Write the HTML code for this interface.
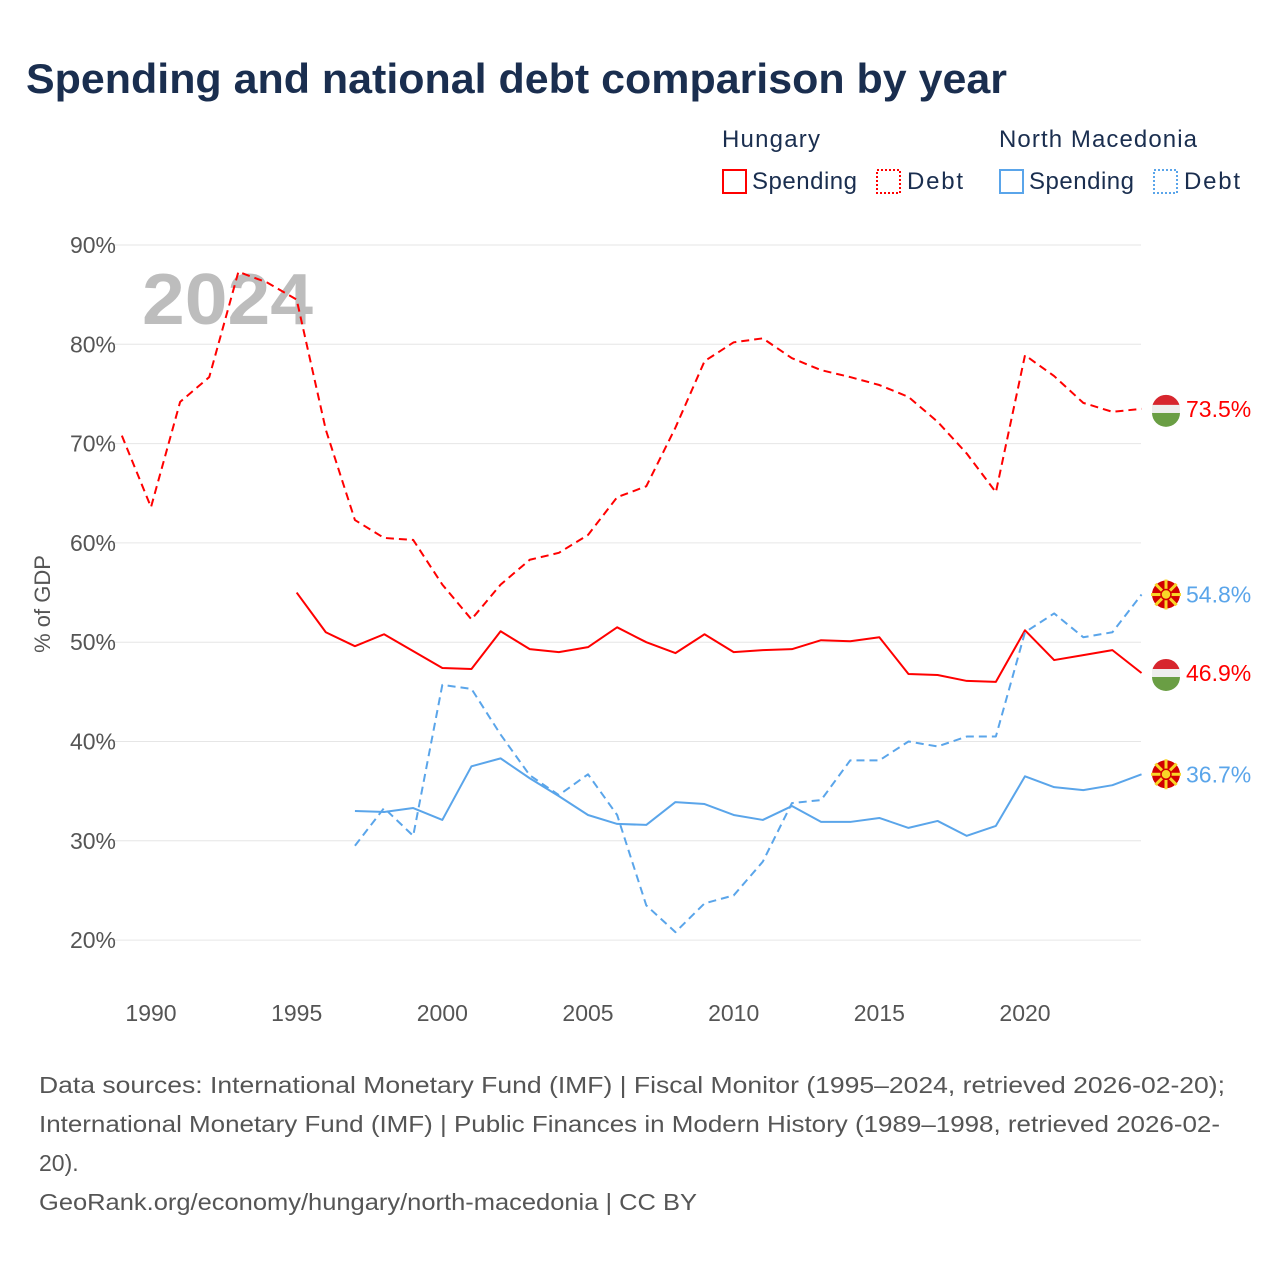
<!DOCTYPE html>
<html><head><meta charset="utf-8"><style>
body{margin:0;background:#fff;font-family:"Liberation Sans",sans-serif}
svg text{font-family:"Liberation Sans",sans-serif}
</style></head><body>
<svg id="chart" width="1280" height="1280" viewBox="0 0 1280 1280" xmlns="http://www.w3.org/2000/svg">
<text x="26" y="93" font-size="42" font-weight="bold" fill="#1a2e4f" textLength="981" lengthAdjust="spacingAndGlyphs">Spending and national debt comparison by year</text>
<g font-size="24" fill="#1a2e4f">
<text x="722" y="147" textLength="98">Hungary</text>
<text x="999" y="147" textLength="198">North Macedonia</text>
<rect x="723" y="170" width="23" height="23" fill="none" stroke="#f00" stroke-width="2"/>
<text x="752" y="189" textLength="105">Spending</text>
<rect x="877" y="170" width="23" height="23" fill="none" stroke="#f00" stroke-width="2" stroke-dasharray="2 2"/>
<text x="907" y="189" textLength="56">Debt</text>
<rect x="1000" y="170" width="23" height="23" fill="none" stroke="#5aa5ea" stroke-width="2"/>
<text x="1029" y="189" textLength="105">Spending</text>
<rect x="1154" y="170" width="23" height="23" fill="none" stroke="#5aa5ea" stroke-width="2" stroke-dasharray="2 2"/>
<text x="1184" y="189" textLength="56">Debt</text>
</g>
<g id="grid"></g>
<text x="142" y="324" font-size="72" font-weight="bold" fill="#bdbdbd" textLength="171" lengthAdjust="spacingAndGlyphs">2024</text>
<text transform="translate(50,604) rotate(-90)" text-anchor="middle" font-size="22" fill="#555">% of GDP</text>
<g id="series"></g>
<g id="ends"></g>
<g font-size="23" fill="#555">
<text x="39" y="1093" textLength="1186" lengthAdjust="spacingAndGlyphs">Data sources: International Monetary Fund (IMF) | Fiscal Monitor (1995–2024, retrieved 2026-02-20);</text>
<text x="39" y="1132" textLength="1181" lengthAdjust="spacingAndGlyphs">International Monetary Fund (IMF) | Public Finances in Modern History (1989–1998, retrieved 2026-02-</text>
<text x="39" y="1171">20).</text>
<text x="39" y="1210" textLength="658" lengthAdjust="spacingAndGlyphs">GeoRank.org/economy/hungary/north-macedonia | CC BY</text>
</g>
</svg>
<script>
const yTicks=[20,30,40,50,60,70,80,90];
const xTicks=[1990,1995,2000,2005,2010,2015,2020];
const huDebtYears=[1989,1990,1991,1992,1993,1994,1995,1996,1997,1998,1999,2000,2001,2002,2003,2004,2005,2006,2007,2008,2009,2010,2011,2012,2013,2014,2015,2016,2017,2018,2019,2020,2021,2022,2023,2024];
const huDebt=[70.8,63.6,74.2,76.7,87.3,86.2,84.5,71.4,62.3,60.5,60.3,55.8,52.3,55.8,58.3,59.0,60.8,64.6,65.7,71.6,78.3,80.2,80.6,78.6,77.4,76.7,75.9,74.7,72.2,69.0,65.1,78.9,76.8,74.1,73.2,73.5];
const huSpendYears=[1995,1996,1997,1998,1999,2000,2001,2002,2003,2004,2005,2006,2007,2008,2009,2010,2011,2012,2013,2014,2015,2016,2017,2018,2019,2020,2021,2022,2023,2024];
const huSpend=[55.0,51.0,49.6,50.8,49.1,47.4,47.3,51.1,49.3,49.0,49.5,51.5,50.0,48.9,50.8,49.0,49.2,49.3,50.2,50.1,50.5,46.8,46.7,46.1,46.0,51.2,48.2,48.7,49.2,46.9];
const mkYears=[1997,1998,1999,2000,2001,2002,2003,2004,2005,2006,2007,2008,2009,2010,2011,2012,2013,2014,2015,2016,2017,2018,2019,2020,2021,2022,2023,2024];
const mkSpend=[33.0,32.9,33.3,32.1,37.5,38.3,36.3,34.5,32.6,31.7,31.6,33.9,33.7,32.6,32.1,33.5,31.9,31.9,32.3,31.3,32.0,30.5,31.5,36.5,35.4,35.1,35.6,36.7];
const mkDebt=[29.5,33.3,30.5,45.7,45.3,40.7,36.6,34.6,36.7,32.6,23.5,20.8,23.7,24.5,27.9,33.8,34.1,38.1,38.1,40.0,39.5,40.5,40.5,51.0,52.9,50.5,51.0,54.8];

const NS="http://www.w3.org/2000/svg";
const xS=yr=>151+(yr-1990)*(874/30);
const yS=v=>245+(90-v)*9.93;
function mk(tag,attrs,parent){const e=document.createElementNS(NS,tag);for(const k in attrs)e.setAttribute(k,attrs[k]);parent.appendChild(e);return e;}
const grid=document.getElementById('grid');
yTicks.forEach(t=>{
  const l=mk('line',{x1:112,x2:1141,y1:yS(t),y2:yS(t),stroke:'#e6e6e6','stroke-width':1},grid);
  
  
  const tx=mk('text',{x:116,y:yS(t)+8,'text-anchor':'end','font-size':23,fill:'#555'},grid);
  tx.textContent=t+'%';
  
  
});
xTicks.forEach(t=>{
  const tx=mk('text',{x:xS(t),y:1021,'text-anchor':'middle','font-size':23,fill:'#555'},grid);
  tx.textContent=t;
  
  
});
const ser=document.getElementById('series');
function line(years,vals,color,dash,name){
  const p=mk('polyline',{points:years.map((y,i)=>xS(y)+','+yS(vals[i])).join(' '),fill:'none',stroke:color,'stroke-width':2,'stroke-linejoin':'round'},ser);
  if(dash)p.setAttribute('stroke-dasharray','8 5');
  
  
}
line(huDebtYears,huDebt,'#f00',true,'line-hungary-debt');
line(huSpendYears,huSpend,'#f00',false,'line-hungary-spending');
line(mkYears,mkDebt,'#5aa5ea',true,'line-north-macedonia-debt');
line(mkYears,mkSpend,'#5aa5ea',false,'line-north-macedonia-spending');
const ends=document.getElementById('ends');
function endLabel(v,color,country,name){
  const cy=yS(v),cx=1166;
  const g=mk('g',{},ends);
  
  
  if(country==='hu'){
    mk('path',{d:`M${cx-14},${cy} A14,14 0 0 1 ${cx+14},${cy} Z`,fill:'#d7262e'},g);
    mk('path',{d:`M${cx-14},${cy+4} L${cx+14},${cy+4} A14,14 0 0 1 ${cx-14},${cy+4} Z`,fill:'#6a9e44'},g);
    mk('path',{d:`M${cx-14},${cy-4} L${cx+14},${cy-4} L${cx+14},${cy+4} L${cx-14},${cy+4} Z`,fill:'#eee'},g);
  } else {
    mk('circle',{cx:cx,cy:cy,r:14,fill:'#d20000'},g);
    for(let a=0;a<8;a++){const an=a*Math.PI/4;mk('line',{x1:cx,y1:cy,x2:cx+15*Math.cos(an),y2:cy+15*Math.sin(an),stroke:'#f8d628','stroke-width':3},g);}
    mk('circle',{cx:cx,cy:cy,r:5,fill:'#f8d628',stroke:'#d20000','stroke-width':1.5},g);
  }
  const t=mk('text',{x:1186,y:cy+8,'font-size':23,fill:color},g);
  t.textContent=v.toFixed(1)+'%';
}
endLabel(huDebt[huDebt.length-1],'#f00','hu','end-label-hungary-debt');
endLabel(huSpend[huSpend.length-1],'#f00','hu','end-label-hungary-spending');
endLabel(mkDebt[mkDebt.length-1],'#5aa5ea','mk','end-label-north-macedonia-debt');
endLabel(mkSpend[mkSpend.length-1],'#5aa5ea','mk','end-label-north-macedonia-spending');
</script>
</body></html>
